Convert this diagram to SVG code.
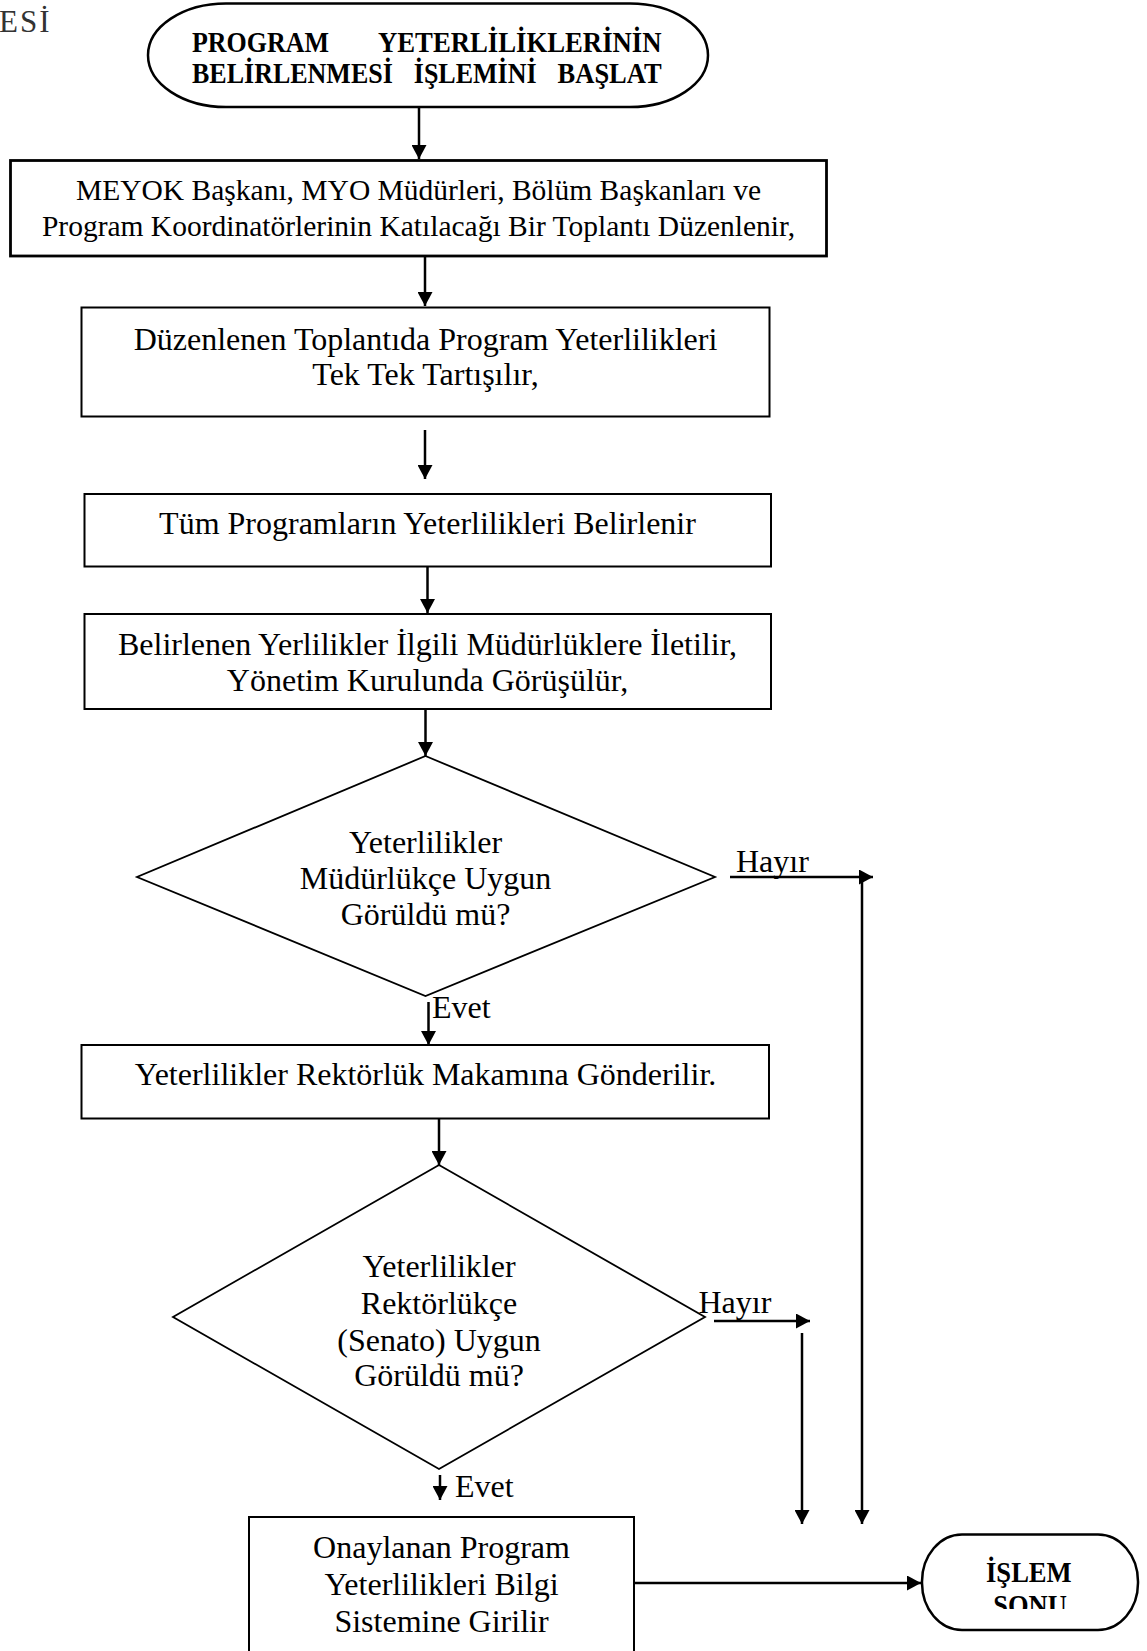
<svg xmlns="http://www.w3.org/2000/svg" width="1147" height="1651" viewBox="0 0 1147 1651">
<style>
.t{font-family:"Liberation Serif","Times New Roman",serif;font-size:32px;fill:#000;text-anchor:middle}
.s{font-size:29.5px}
.b{font-family:"Liberation Serif","Times New Roman",serif;font-size:30px;font-weight:bold;fill:#000}
.l{font-family:"Liberation Serif","Times New Roman",serif;font-size:32px;fill:#000}
.box{fill:#fff;stroke:#000;stroke-width:2}
.dia{fill:#fff;stroke:#000;stroke-width:1.8}
.term{fill:#fff;stroke:#000;stroke-width:2.5}
.c{stroke:#000;stroke-width:2.5;fill:none}
</style>
<defs>
<marker id="ah" viewBox="0 0 14 15" refX="14" refY="7.5" markerWidth="14" markerHeight="15" markerUnits="userSpaceOnUse" orient="auto">
<path d="M0,0 L14,7.5 L0,15 z" fill="#000"/>
</marker>
<clipPath id="clipEnd"><rect x="900" y="1520" width="247" height="89"/></clipPath>
</defs>
<rect width="1147" height="1651" fill="#fff"/>
<text x="-1" y="32" style="font-family:'Liberation Serif','Times New Roman',serif;font-size:31px;letter-spacing:2px;fill:#333">ESİ</text>

<g id="start">
<rect class="term" x="148" y="3.5" width="560" height="103.5" rx="78" ry="52"/>
<text class="b" x="192" y="52" textLength="137" lengthAdjust="spacingAndGlyphs">PROGRAM</text>
<text class="b" x="378" y="52" textLength="283.5" lengthAdjust="spacingAndGlyphs">YETERLİLİKLERİNİN</text>
<text class="b" x="192" y="83" textLength="200.8" lengthAdjust="spacingAndGlyphs">BELİRLENMESİ</text>
<text class="b" x="413.8" y="83" textLength="122.8" lengthAdjust="spacingAndGlyphs">İŞLEMİNİ</text>
<text class="b" x="557.6" y="83" textLength="104" lengthAdjust="spacingAndGlyphs">BAŞLAT</text>
</g>

<g id="box1">
<rect class="box" x="10.5" y="160.5" width="816" height="95.5" style="stroke-width:2.8"/>
<text class="t s" x="418.5" y="200">MEYOK Başkanı, MYO Müdürleri, Bölüm Başkanları ve</text>
<text class="t s" x="418.5" y="236">Program Koordinatörlerinin Katılacağı Bir Toplantı Düzenlenir,</text>
</g>

<g id="box2">
<rect class="box" x="81.5" y="307.5" width="688" height="109"/>
<text class="t" x="425.5" y="350">Düzenlenen Toplantıda Program Yeterlilikleri</text>
<text class="t" x="425.5" y="385">Tek Tek Tartışılır,</text>
</g>

<g id="box3">
<rect class="box" x="84.5" y="494" width="686.5" height="72.5"/>
<text class="t" x="427.5" y="534">Tüm Programların Yeterlilikleri Belirlenir</text>
</g>

<g id="box4">
<rect class="box" x="84.5" y="614" width="686.5" height="95"/>
<text class="t" x="427.5" y="655">Belirlenen Yerlilikler İlgili Müdürlüklere İletilir,</text>
<text class="t" x="427.5" y="691">Yönetim Kurulunda Görüşülür,</text>
</g>

<g id="dec1">
<polygon class="dia" points="425.5,756 715,877 425.5,996 137,877"/>
<text class="t" x="425.5" y="853">Yeterlilikler</text>
<text class="t" x="425.5" y="889">Müdürlükçe Uygun</text>
<text class="t" x="425.5" y="925">Görüldü mü?</text>
</g>

<g id="box5">
<rect class="box" x="81.5" y="1045" width="687.5" height="73.5"/>
<text class="t" x="425.5" y="1085">Yeterlilikler Rektörlük Makamına Gönderilir.</text>
</g>

<g id="dec2">
<polygon class="dia" points="439,1165 705,1317 439,1469 173,1317"/>
<text class="t" x="439" y="1277">Yeterlilikler</text>
<text class="t" x="439" y="1314">Rektörlükçe</text>
<text class="t" x="439" y="1351">(Senato) Uygun</text>
<text class="t" x="439" y="1386">Görüldü mü?</text>
</g>

<g id="box6">
<rect class="box" x="249" y="1517" width="385" height="140"/>
<text class="t" x="441.5" y="1558">Onaylanan Program</text>
<text class="t" x="441.5" y="1595">Yeterlilikleri Bilgi</text>
<text class="t" x="441.5" y="1632">Sistemine Girilir</text>
</g>

<g id="end">
<rect class="term" x="922" y="1534.5" width="216" height="95.5" rx="40" ry="47"/>
<text class="b" x="986" y="1582" textLength="85.7" lengthAdjust="spacingAndGlyphs">İŞLEM</text>
<text class="b" x="1030" y="1615" text-anchor="middle" textLength="73.6" lengthAdjust="spacingAndGlyphs" clip-path="url(#clipEnd)">SONU</text>
</g>

<g id="connectors">
<line class="c" x1="419" y1="108" x2="419" y2="159" marker-end="url(#ah)"/>
<line class="c" x1="425" y1="256" x2="425" y2="306" marker-end="url(#ah)"/>
<line class="c" x1="425" y1="430" x2="425" y2="479" marker-end="url(#ah)"/>
<line class="c" x1="427.5" y1="567" x2="427.5" y2="613" marker-end="url(#ah)"/>
<line class="c" x1="425.5" y1="709" x2="425.5" y2="756" marker-end="url(#ah)"/>
<line class="c" x1="428.5" y1="1002" x2="428.5" y2="1045" marker-end="url(#ah)"/>
<line class="c" x1="439" y1="1118.5" x2="439" y2="1165" marker-end="url(#ah)"/>
<line class="c" x1="730" y1="877" x2="873" y2="877" marker-end="url(#ah)"/>
<line class="c" x1="862" y1="877" x2="862" y2="1524" marker-end="url(#ah)"/>
<line class="c" x1="714" y1="1321" x2="810" y2="1321" marker-end="url(#ah)"/>
<line class="c" x1="802" y1="1333" x2="802" y2="1524" marker-end="url(#ah)"/>
<line class="c" x1="440" y1="1475" x2="440" y2="1500" marker-end="url(#ah)"/>
<line class="c" x1="634" y1="1583" x2="921" y2="1583" marker-end="url(#ah)"/>
<text class="l" x="736" y="872">Hayır</text>
<text class="l" x="698.5" y="1313">Hayır</text>
<text class="l" x="432" y="1018">Evet</text>
<text class="l" x="455" y="1497">Evet</text>
</g>
</svg>
